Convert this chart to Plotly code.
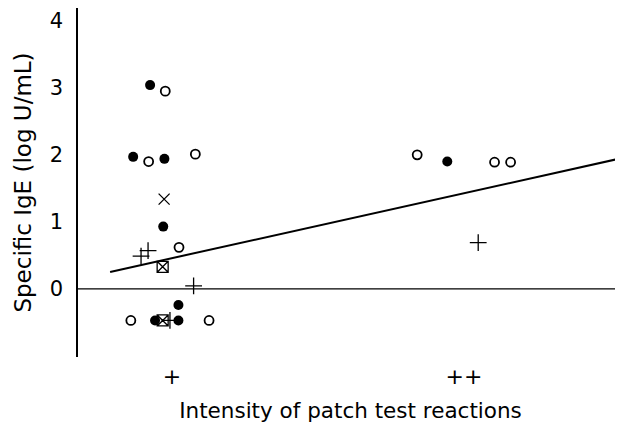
import plotly.graph_objects as go

# Category positions: 1 = "+", 2 = "++" (points jittered horizontally as in the figure)
tick_vals = [1, 2]
tick_text = ["+", "++"]

# Filled circles
filled_x = [0.925, 0.867, 0.974, 0.970, 1.022, 0.942, 1.022, 1.943]
filled_y = [3.04, 1.97, 1.94, 0.93, -0.24, -0.47, -0.47, 1.90]

# Open circles
open_x = [0.977, 0.920, 1.080, 1.024, 0.859, 1.127, 1.840, 2.105, 2.160]
open_y = [2.95, 1.90, 2.01, 0.62, -0.47, -0.47, 2.00, 1.89, 1.89]

# Crosses (x)
cross_x = [0.973]
cross_y = [1.34]

# Plus signs
plus_x = [0.894, 0.918, 1.074, 0.993, 2.049]
plus_y = [0.49, 0.57, 0.045, -0.47, 0.69]

# Crossed squares
sqx_x = [0.968, 0.968]
sqx_y = [0.33, -0.47]

# Regression line endpoints
fit_x = [0.788, 2.545]
fit_y = [0.254, 1.955]

# Zero reference line
zero_x = [0.678, 2.545]
zero_y = [0, 0]

fig = go.Figure()
fig.add_trace(go.Scatter(x=zero_x, y=zero_y, mode="lines",
                         line=dict(color="black", width=1.3), showlegend=False))
fig.add_trace(go.Scatter(x=fit_x, y=fit_y, mode="lines",
                         line=dict(color="black", width=2), showlegend=False))
fig.add_trace(go.Scatter(x=open_x, y=open_y, mode="markers",
                         marker=dict(symbol="circle-open", size=9, color="black",
                                     line=dict(width=1.8, color="black")), showlegend=False))
fig.add_trace(go.Scatter(x=filled_x, y=filled_y, mode="markers",
                         marker=dict(symbol="circle", size=10, color="black"), showlegend=False))
fig.add_trace(go.Scatter(x=sqx_x, y=sqx_y, mode="markers",
                         marker=dict(symbol="square-x-open", size=11, color="black",
                                     line=dict(width=1.3, color="black")), showlegend=False))
fig.add_trace(go.Scatter(x=cross_x, y=cross_y, mode="markers",
                         marker=dict(symbol="x-thin-open", size=11, color="black",
                                     line=dict(width=1.3, color="black")), showlegend=False))
fig.add_trace(go.Scatter(x=plus_x, y=plus_y, mode="markers",
                         marker=dict(symbol="cross-thin-open", size=12, color="black",
                                     line=dict(width=1.3, color="black")), showlegend=False))

font_family = "DejaVu Sans, sans-serif"
# The page body has an 8px default margin, so the figure is sized to fit the window.
fig.update_layout(
    width=615, height=419,
    margin=dict(l=70, r=0, t=0, b=70),
    paper_bgcolor="white", plot_bgcolor="white",
    font=dict(family=font_family, color="black", size=19),
    xaxis=dict(range=[0.678, 2.545], tickvals=tick_vals, ticktext=tick_text,
               showgrid=False, zeroline=False, showline=False, ticks="",
               automargin=False, ticklabelstandoff=4,
               tickfont=dict(size=22),
               title=dict(text="Intensity of patch test reactions", font=dict(size=21.5), standoff=14)),
    yaxis=dict(range=[-1.015, 4.19], tickvals=[0, 1, 2, 3, 4],
               showgrid=False, zeroline=False, showline=True, linecolor="black", linewidth=1.5,
               automargin=False,
               ticks="", ticklabelstandoff=9, tickfont=dict(size=21),
               title=dict(text="Specific IgE (log U/mL)", font=dict(size=23), standoff=12)),
)

fig.write_html("out.html")
